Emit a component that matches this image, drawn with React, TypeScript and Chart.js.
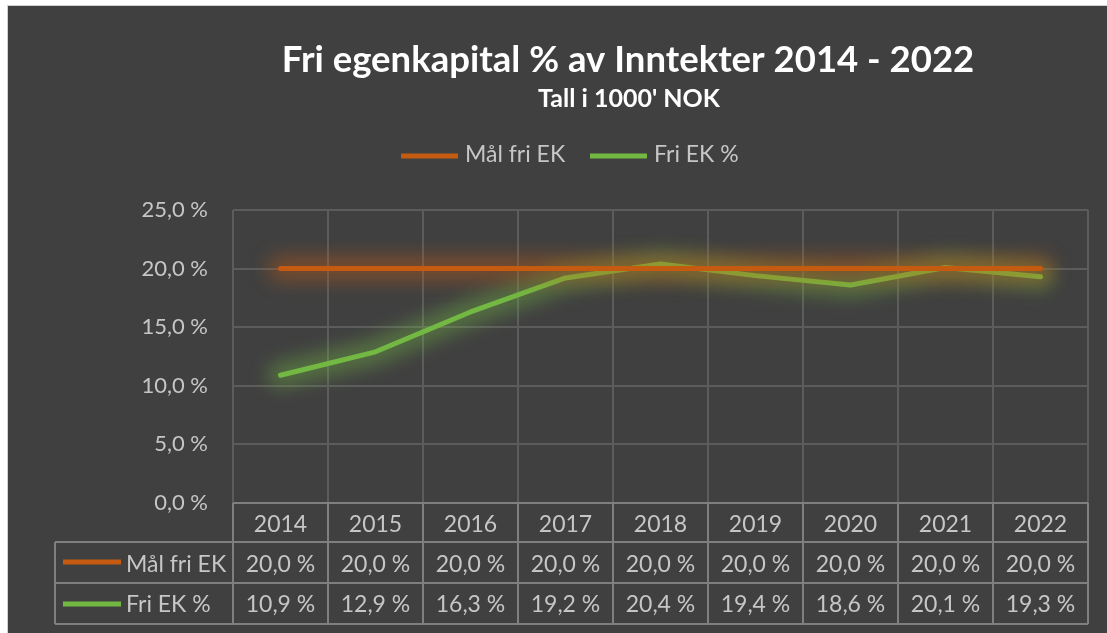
import React, { useEffect, useRef } from 'react';
import { Chart, registerables } from 'chart.js';

Chart.register(...registerables);

// ---- data ----
const years = ['2014', '2015', '2016', '2017', '2018', '2019', '2020', '2021', '2022'];
const goalName = 'Mål fri EK';
const actualName = 'Fri EK %';
const goalValues = [20.0, 20.0, 20.0, 20.0, 20.0, 20.0, 20.0, 20.0, 20.0];
const actualValues = [10.9, 12.9, 16.3, 19.2, 20.4, 19.4, 18.6, 20.1, 19.3];
const yTickValues = [0, 5, 10, 15, 20, 25];
const titleText = 'Fri egenkapital % av Inntekter 2014 - 2022';
const subtitleText = "Tall i 1000' NOK";

// ---- styles ----
const FONT = 'Lato, "Open Sans", sans-serif';
const BG = '#404040';
const ORANGE = '#C55A11';
const GREEN = '#72B843';
const ORANGE_GLOW = 'rgba(197,90,17,0.4)';
const GREEN_GLOW = 'rgba(114,184,67,0.4)';
const GRID = '#5c5c5c';
const TABLE_LINE = '#7f7f7f';
const TEXT = '#c6c6c6';

const fmt = (v: number) => v.toFixed(1).replace('.', ',') + ' %';

const decorPlugin = {
  id: 'decor',
  beforeDatasetDraw(chart: any, args: any) {
    const ctx = chart.ctx as CanvasRenderingContext2D;
    const ds = chart.data.datasets[args.index];
    const pts = args.meta.data;
    if (!pts || !pts.length) return;
    ctx.save();
    ctx.filter = 'blur(9px)';
    ctx.strokeStyle = ds.glowColor;
    ctx.lineWidth = 26;
    ctx.lineJoin = 'round';
    ctx.lineCap = 'round';
    ctx.beginPath();
    pts.forEach((p: any, i: number) => {
      if (i === 0) ctx.moveTo(p.x, p.y);
      else ctx.lineTo(p.x, p.y);
    });
    ctx.stroke();
    ctx.restore();
  },
  afterDraw(chart: any) {
    const ctx = chart.ctx as CanvasRenderingContext2D;
    const area = chart.chartArea;
    const W = chart.width;
    ctx.save();
    // title
    ctx.textAlign = 'center';
    ctx.textBaseline = 'alphabetic';
    ctx.fillStyle = '#ffffff';
    ctx.font = `bold 36.5px ${FONT}`;
    ctx.fillText(titleText, W / 2, 66);
    ctx.font = `bold 25px ${FONT}`;
    ctx.fillText(subtitleText, W / 2 + 1, 101);

    // legend
    ctx.lineCap = 'butt';
    const legendItems = [
      { name: goalName, color: ORANGE, x: 393 },
      { name: actualName, color: GREEN, x: 582 },
    ];
    ctx.font = `23px ${FONT}`;
    ctx.textAlign = 'left';
    ctx.fillStyle = TEXT;
    for (const it of legendItems) {
      ctx.strokeStyle = it.color;
      ctx.lineWidth = 5;
      ctx.beginPath();
      ctx.moveTo(it.x, 150);
      ctx.lineTo(it.x + 57, 150);
      ctx.stroke();
      ctx.fillText(it.name, it.x + 64, 156);
    }

    // data table
    const n = years.length;
    const colW = (area.right - area.left) / n;
    const top = area.bottom;
    const rows = [top, top + 39, top + 80, top + 121];
    const tableLeft = 47;
    ctx.strokeStyle = TABLE_LINE;
    ctx.lineWidth = 2;
    ctx.beginPath();
    ctx.moveTo(area.left, rows[0]);
    ctx.lineTo(area.right, rows[0]);
    for (let r = 1; r < rows.length; r++) {
      ctx.moveTo(tableLeft, rows[r]);
      ctx.lineTo(area.right, rows[r]);
    }
    ctx.moveTo(tableLeft, rows[1]);
    ctx.lineTo(tableLeft, rows[3]);
    for (let i = 0; i <= n; i++) {
      const x = area.left + i * colW;
      ctx.moveTo(x, rows[0]);
      ctx.lineTo(x, rows[3]);
    }
    ctx.stroke();

    const xs = chart.scales.x;
    ctx.fillStyle = TEXT;
    ctx.font = `23px ${FONT}`;
    ctx.textAlign = 'center';
    years.forEach((y, i) => {
      const cx = xs.getPixelForValue(i);
      ctx.fillText(y, cx, top + 29);
      ctx.fillText(fmt(goalValues[i]), cx, top + 69);
      ctx.fillText(fmt(actualValues[i]), cx, top + 109);
    });
    // row headers
    const rowHeads = [
      { name: goalName, color: ORANGE, lineY: top + 59, base: top + 69 },
      { name: actualName, color: GREEN, lineY: top + 101, base: top + 109 },
    ];
    ctx.textAlign = 'left';
    for (const rh of rowHeads) {
      ctx.strokeStyle = rh.color;
      ctx.lineWidth = 5;
      ctx.beginPath();
      ctx.moveTo(55, rh.lineY);
      ctx.lineTo(113, rh.lineY);
      ctx.stroke();
      ctx.fillText(rh.name, 118, rh.base);
    }
    ctx.restore();
  },
};

export default function App() {
  const ref = useRef<HTMLCanvasElement | null>(null);
  useEffect(() => {
    if (!ref.current) return;
    const chart = new Chart(ref.current, {
      type: 'line',
      data: {
        labels: years,
        datasets: [
          {
            label: goalName,
            data: goalValues,
            borderColor: ORANGE,
            backgroundColor: ORANGE,
            borderWidth: 5,
            pointRadius: 0,
            tension: 0,
            borderCapStyle: 'round',
            glowColor: ORANGE_GLOW,
          } as any,
          {
            label: actualName,
            data: actualValues,
            borderColor: GREEN,
            backgroundColor: GREEN,
            borderWidth: 5,
            pointRadius: 0,
            tension: 0,
            borderCapStyle: 'round',
            borderJoinStyle: 'round',
            glowColor: GREEN_GLOW,
          } as any,
        ],
      },
      options: {
        animation: false,
        responsive: false,
        layout: { padding: { top: 204, right: 160, bottom: 130, left: 0 } },
        plugins: {
          legend: { display: false },
          title: { display: false },
          tooltip: { enabled: false },
        },
        scales: {
          x: {
            type: 'category',
            offset: true,
            grid: { offset: true, color: GRID, lineWidth: 2, drawTicks: false },
            border: { display: false },
            ticks: { display: false },
            afterFit(s: any) {
              s.height = 0;
            },
          },
          y: {
            min: 0,
            max: 25,
            afterBuildTicks(s: any) {
              s.ticks = yTickValues.map((v) => ({ value: v }));
            },
            ticks: {
              padding: 25,
              color: TEXT,
              font: { family: FONT, size: 22 },
              callback: (v: any) => fmt(Number(v)),
            },
            grid: { color: GRID, lineWidth: 2, drawTicks: false },
            border: { display: false },
            afterFit(s: any) {
              s.width = 225;
            },
          },
        },
      } as any,
      plugins: [decorPlugin],
    });
    return () => chart.destroy();
  }, []);

  return (
    <div
      style={{
        position: 'fixed',
        left: 7,
        top: 5,
        width: 1100,
        height: 628,
        overflow: 'hidden',
        background: BG,
        borderTop: '1px solid #d0d0d0',
        borderLeft: '1px solid #d0d0d0',
        boxSizing: 'border-box',
      }}
    >
      <canvas ref={ref} width={1240} height={627} style={{ display: 'block' }} />
    </div>
  );
}
